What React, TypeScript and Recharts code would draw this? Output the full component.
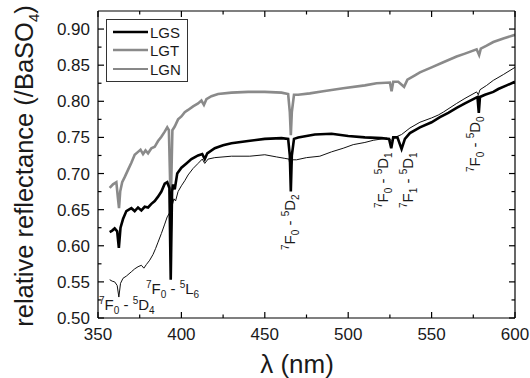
import React from "react";
import { LineChart, Line, XAxis, YAxis } from "recharts";

const FONT = "'Liberation Sans', Arial, Helvetica, sans-serif";
const GRAY = "#8a8a8a";
const INK = "#1a1a1a";

// axis ticks
const xTicks = [350, 375, 400, 425, 450, 475, 500, 525, 550, 575, 600];
const yTicks = [0.5, 0.525, 0.55, 0.575, 0.6, 0.625, 0.65, 0.675, 0.7, 0.725, 0.75, 0.775, 0.8, 0.825, 0.85, 0.875, 0.9];

// LGS (thick black)
const lgsWl = [357, 358.5, 360, 361.5, 362.5, 363.5, 365, 367, 370, 372, 374, 376, 378, 380, 382, 384, 386, 388, 390, 391.5, 392.8, 393.6, 394.4, 395, 396, 397.5, 400, 403, 406, 410, 412.5, 414, 415.5, 420, 425, 430, 440, 450, 460, 464, 465, 465.6, 466.2, 467.5, 470, 480, 490, 500, 510, 520, 524.5, 525.8, 527, 529.5, 532, 534, 537, 543, 550, 555, 560, 565, 570, 575, 577.5, 578.3, 579, 582, 587, 590, 595, 600];
const lgsR = [0.619, 0.621, 0.624, 0.62, 0.597, 0.625, 0.637, 0.648, 0.652, 0.648, 0.653, 0.649, 0.654, 0.653, 0.658, 0.662, 0.668, 0.675, 0.686, 0.688, 0.68, 0.553, 0.675, 0.685, 0.678, 0.7, 0.708, 0.714, 0.72, 0.725, 0.727, 0.72, 0.728, 0.735, 0.739, 0.742, 0.745, 0.748, 0.749, 0.748, 0.725, 0.675, 0.725, 0.748, 0.75, 0.754, 0.755, 0.752, 0.75, 0.749, 0.748, 0.735, 0.75, 0.75, 0.734, 0.748, 0.756, 0.764, 0.771, 0.778, 0.784, 0.791, 0.797, 0.803, 0.806, 0.784, 0.806, 0.809, 0.813, 0.817, 0.822, 0.827];

// LGT (grey)
const lgtWl = [357, 359, 361, 362, 362.6, 363.3, 364.5, 366, 368, 370, 372, 374, 375.5, 377, 378.5, 380, 382, 384, 386, 388, 390, 391.5, 392.5, 393.6, 394.6, 396, 398, 400, 402, 404, 407, 410, 412, 413.5, 415, 418, 422, 430, 440, 450, 460, 464, 465, 465.6, 466.2, 467.5, 470, 477, 485, 497, 510, 517, 525, 526, 527, 530, 533.5, 535.5, 540, 543, 550, 557, 565, 570, 577, 578.5, 579.5, 583, 587, 593, 600];
const lgtR = [0.68, 0.685, 0.688, 0.665, 0.652, 0.675, 0.688, 0.695, 0.705, 0.715, 0.726, 0.73, 0.733, 0.727, 0.732, 0.728, 0.735, 0.737, 0.745, 0.751, 0.758, 0.764, 0.76, 0.655, 0.76, 0.765, 0.775, 0.779, 0.785, 0.788, 0.793, 0.797, 0.801, 0.795, 0.803, 0.807, 0.81, 0.812, 0.813, 0.813, 0.812, 0.81, 0.785, 0.753, 0.785, 0.809, 0.809, 0.811, 0.814, 0.818, 0.822, 0.825, 0.826, 0.814, 0.827, 0.827, 0.82, 0.83, 0.836, 0.84, 0.847, 0.854, 0.862, 0.866, 0.872, 0.864, 0.873, 0.877, 0.882, 0.887, 0.892];

// LGN (thin black)
const lgnWl = [357, 358.5, 360, 361.5, 362.5, 363.5, 365, 367, 370, 372, 374, 376, 377.5, 379, 381, 383, 384.5, 386, 388, 390, 391.5, 392.8, 393.6, 394.4, 395.5, 396.5, 398, 400, 402, 404, 407, 410, 412.5, 414, 416, 420, 430, 441, 450, 457, 462, 464.5, 465.5, 466.5, 469, 475, 483, 490, 497, 503, 510, 515, 523, 526, 528, 532, 537, 543, 550, 554, 557, 565, 570, 577, 578, 579, 583, 587, 593, 600];
const lgnR = [0.553, 0.551, 0.55, 0.545, 0.529, 0.548, 0.555, 0.558, 0.564, 0.568, 0.571, 0.573, 0.569, 0.574, 0.58, 0.588, 0.596, 0.605, 0.617, 0.63, 0.64, 0.645, 0.56, 0.655, 0.665, 0.662, 0.675, 0.683, 0.69, 0.698, 0.707, 0.714, 0.72, 0.714, 0.72, 0.722, 0.724, 0.724, 0.726, 0.723, 0.721, 0.72, 0.705, 0.719, 0.719, 0.722, 0.724, 0.73, 0.735, 0.74, 0.743, 0.746, 0.749, 0.746, 0.75, 0.754, 0.763, 0.771, 0.777, 0.781, 0.785, 0.797, 0.804, 0.813, 0.809, 0.816, 0.822, 0.829, 0.837, 0.847];

const pts = (wl: number[], r: number[]) => wl.map((x, i) => ({ x, r: r[i] }));
const lgs = pts(lgsWl, lgsR);
const lgt = pts(lgtWl, lgtR);
const lgn = pts(lgnWl, lgnR);

const isMajorX = (v: number) => v % 50 === 0;
const isMajorY = (v: number) => Math.round(v * 1000) % 50 === 0;

const tickText = { fontSize: 17, fontFamily: FONT, fill: INK };

const BottomTick = (p: any) => {
  const v = p.payload.value;
  const major = isMajorX(v);
  return (
    <g>
      <line x1={p.x} x2={p.x} y1={p.y} y2={p.y - (major ? 6 : 3.5)} stroke="#000" strokeWidth={1.2} />
      {major && <text x={p.x} y={p.y + 22} textAnchor="middle" {...tickText}>{v}</text>}
    </g>
  );
};
const TopTick = (p: any) => {
  const major = isMajorX(p.payload.value);
  return <line x1={p.x} x2={p.x} y1={p.y} y2={p.y + (major ? 6 : 3.5)} stroke="#000" strokeWidth={1.2} />;
};
const LeftTick = (p: any) => {
  const v = p.payload.value;
  const major = isMajorY(v);
  return (
    <g>
      <line x1={p.x} x2={p.x + (major ? 6 : 3.5)} y1={p.y} y2={p.y} stroke="#000" strokeWidth={1.2} />
      {major && <text x={p.x - 8} y={p.y + 6} textAnchor="end" {...tickText}>{v.toFixed(2)}</text>}
    </g>
  );
};
const RightTick = (p: any) => {
  const major = isMajorY(p.payload.value);
  return <line x1={p.x} x2={p.x - (major ? 6 : 3.5)} y1={p.y} y2={p.y} stroke="#000" strokeWidth={1.2} />;
};

// 2S+1 L J term pairs: [sup, letter, sub]
const Trans = ({ a, b }: { a: string[]; b: string[] }) => (
  <>
    <tspan fontSize={10} dy={-6}>{a[0]}</tspan>
    <tspan fontSize={15} dy={6}>{a[1]}</tspan>
    <tspan fontSize={10} dy={4}>{a[2]}</tspan>
    <tspan fontSize={15} dy={-4}>{"\u00a0-\u00a0"}</tspan>
    <tspan fontSize={10} dy={-6}>{b[0]}</tspan>
    <tspan fontSize={15} dy={6}>{b[1]}</tspan>
    <tspan fontSize={10} dy={4}>{b[2]}</tspan>
  </>
);

const axisLine = { stroke: "#000", strokeWidth: 1.2 };

export default function App() {
  return (
    <div style={{ position: "absolute", left: 0, top: 0, width: 530, height: 378, background: "#fff" }}>
      <LineChart width={530} height={378} margin={{ top: 10, right: 14, bottom: 30, left: 38 }}>
        <XAxis xAxisId="b" dataKey="x" type="number" domain={[350, 600]} ticks={xTicks} allowDataOverflow
          orientation="bottom" height={30} tickSize={0} tickMargin={0} tickLine={false} axisLine={axisLine} tick={<BottomTick />} interval={0} />
        <XAxis xAxisId="t" dataKey="x" type="number" domain={[350, 600]} ticks={xTicks} allowDataOverflow
          orientation="top" height={1} tickSize={0} tickMargin={0} tickLine={false} axisLine={axisLine} tick={<TopTick />} interval={0} />
        <YAxis yAxisId="l" type="number" domain={[0.5, 0.925]} ticks={yTicks} allowDataOverflow
          orientation="left" width={60} tickSize={0} tickMargin={0} tickLine={false} axisLine={axisLine} tick={<LeftTick />} interval={0} />
        <YAxis yAxisId="r" type="number" domain={[0.5, 0.925]} ticks={yTicks} allowDataOverflow
          orientation="right" width={1} tickSize={0} tickMargin={0} tickLine={false} axisLine={axisLine} tick={<RightTick />} interval={0} />
        <Line xAxisId="b" yAxisId="l" data={lgn} dataKey="r" type="linear" stroke="#111" strokeWidth={1} dot={false} isAnimationActive={false} />
        <Line xAxisId="t" yAxisId="r" data={lgt} dataKey="r" type="linear" stroke={GRAY} strokeWidth={2.6} dot={false} isAnimationActive={false} />
        <Line xAxisId="b" yAxisId="l" data={lgs} dataKey="r" type="linear" stroke="#000" strokeWidth={2.6} dot={false} isAnimationActive={false} />
      </LineChart>

      <svg width={530} height={378} style={{ position: "absolute", left: 0, top: 0, pointerEvents: "none" }}
        fontFamily={FONT} fill={INK}>
        {/* legend */}
        <rect x={106.5} y={19.5} width={81} height={62} fill="#fff" stroke="#333" strokeWidth={1} />
        <line x1={113} x2={148} y1={32} y2={32} stroke="#000" strokeWidth={2.6} />
        <line x1={113} x2={148} y1={50} y2={50} stroke={GRAY} strokeWidth={2.6} />
        <line x1={113} x2={148} y1={69} y2={69} stroke="#111" strokeWidth={1} />
        <text x={150} y={37.5} fontSize={15}>LGS</text>
        <text x={150} y={55.5} fontSize={15}>LGT</text>
        <text x={150} y={74.5} fontSize={15}>LGN</text>

        {/* transition labels */}
        <text x={99} y={310}><Trans a={["7", "F", "0"]} b={["5", "D", "4"]} /></text>
        <text x={146} y={294}><Trans a={["7", "F", "0"]} b={["5", "L", "6"]} /></text>
        <g transform="translate(295,250) rotate(-90)"><text x={0} y={0}><Trans a={["7", "F", "0"]} b={["5", "D", "2"]} /></text></g>
        <g transform="translate(388,208) rotate(-90)"><text x={0} y={0}><Trans a={["7", "F", "0"]} b={["5", "D", "1"]} /></text></g>
        <g transform="translate(413,208) rotate(-90)"><text x={0} y={0}><Trans a={["7", "F", "1"]} b={["5", "D", "1"]} /></text></g>
        <g transform="translate(480,172) rotate(-90)"><text x={0} y={0}><Trans a={["7", "F", "0"]} b={["5", "D", "0"]} /></text></g>

        {/* axis titles */}
        <g transform="translate(33,166) rotate(-90)">
          <text x={0} y={0} textAnchor="middle" fontSize={25.5}>
            relative reflectance (/BaSO<tspan fontSize={15} dy={6}>4</tspan><tspan dy={-6}>)</tspan>
          </text>
        </g>
        <text x={297} y={373} textAnchor="middle" fontSize={26}>λ (nm)</text>
      </svg>
    </div>
  );
}
